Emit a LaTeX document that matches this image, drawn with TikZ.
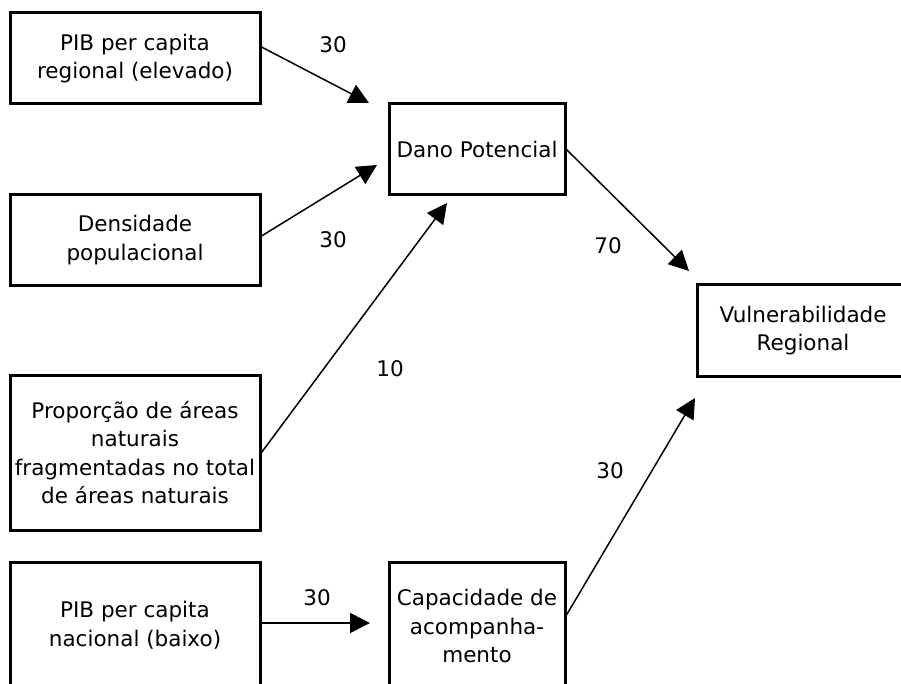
\documentclass[tikz,border=0pt]{standalone}
\usepackage{fontspec}
\setmainfont{DejaVu Sans}
\usetikzlibrary{arrows.meta}

\begin{document}
\begin{tikzpicture}[x=1pt,y=-1pt]
		\tikzset{
			caixa/.style={draw, line width=3pt, inner sep=0pt, align=center, font=\fontsize{21.5}{28.5}\selectfont},
			seta/.style={line width=1.5pt, -{Triangle[length=20pt,width=20pt]}},
			peso/.style={font=\fontsize{21.5}{28.5}\selectfont}
		}
		\useasboundingbox (0,0) rectangle (901,684);
		%%%%% START %%%%%
		\node[caixa, minimum width=250pt, minimum height=91pt] (pibreg) at (135, 58.5) {PIB per capita\\regional (elevado)};
		\node[caixa, minimum width=250pt, minimum height=91pt] (dens) at (135, 240) {Densidade\\populacional};
		\node[caixa, minimum width=250pt, minimum height=155pt] (prop) at (135, 452.5) {Proporção de áreas\\naturais\\fragmentadas no total\\de áreas naturais};
		\node[caixa, minimum width=250pt, minimum height=126pt] (pibnac) at (135, 625) {PIB per capita\\nacional (baixo)};
		
		\node[caixa, minimum width=176pt, minimum height=91pt] (dano) at (477, 149.5) {Dano Potencial};
		\node[caixa, minimum width=176pt, minimum height=128pt] (capac) at (477, 626) {Capacidade de\\acompanha-\\mento};
		\node[caixa, minimum width=212pt, minimum height=91pt] (vuln) at (803, 330.5) {Vulnerabilidade\\Regional};
		
		\coordinate (t1) at (369, 103);
		\coordinate (t2) at (377, 165);
		\coordinate (t3) at (447, 203);
		\coordinate (t4) at (689, 271);
		\coordinate (t5) at (370, 623);
		\coordinate (t6) at (695, 398);
		
		\draw[seta] ([yshift=11.5pt]pibreg.east) -- (t1);
		\draw[seta] ([yshift=4pt]dens.east) -- (t2);
		\draw[seta] (prop.east) -- (t3);
		\draw[seta] (dano.east) -- (t4);
		\draw[seta] ([yshift=2pt]pibnac.east) -- (t5);
		\draw[seta] ([yshift=11pt]capac.east) -- (t6);
		
		\node[peso] (w1) at (333, 45) {30};
		\node[peso] (w2) at (333, 240) {30};
		\node[peso] (w3) at (390, 369) {10};
		\node[peso] (w4) at (608, 246) {70};
		\node[peso] (w5) at (317, 598) {30};
		\node[peso] (w6) at (610, 471) {30};
		%%%%% END %%%%%
	\end{tikzpicture}
\end{document}
